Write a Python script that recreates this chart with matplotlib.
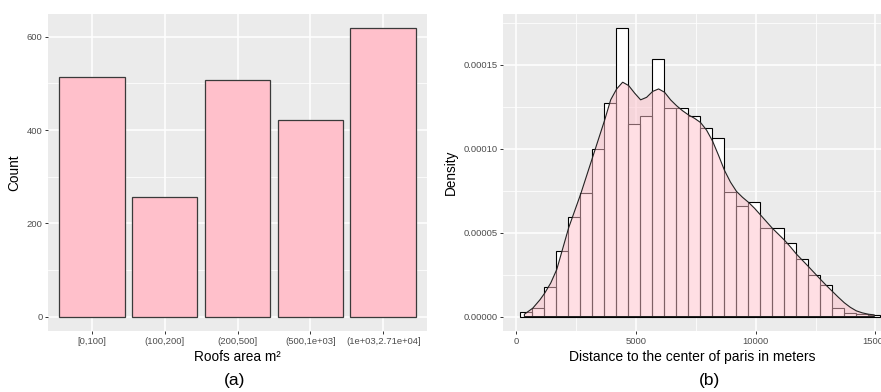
import matplotlib.pyplot as plt
import numpy as np

# panel (a): roof area classes
roof_classes = ['[0,100]', '(100,200]', '(200,500]', '(500,1e+03]', '(1e+03,2.71e+04]']
roof_counts = [513, 256, 507, 422, 618]

# panel (b): histogram of distances (density scale), 30 bins of 500 m
hist_edges = [180, 680, 1180, 1680, 2180, 2680, 3180, 3680, 4180, 4680, 5180,
              5680, 6180, 6680, 7180, 7680, 8180, 8680, 9180, 9680, 10180,
              10680, 11180, 11680, 12180, 12680, 13180, 13680, 14180, 14680, 15180]
hist_density = [2.6e-6, 5.0e-6, 1.77e-5, 3.9e-5, 5.92e-5, 7.38e-5, 1.0e-4, 1.273e-4,
                1.715e-4, 1.149e-4, 1.195e-4, 1.534e-4, 1.24e-4, 1.243e-4, 1.193e-4,
                1.12e-4, 1.062e-4, 7.39e-5, 6.61e-5, 6.79e-5, 5.26e-5, 5.3e-5,
                4.38e-5, 3.43e-5, 2.45e-5, 1.89e-5, 5.0e-6, 2.2e-6, 1.8e-6, 1.2e-6]

# kernel density curve
kde_x = [350, 700, 1000, 1200, 1450, 1700, 1950, 2200, 2450, 2700, 2950, 3200,
         3450, 3700, 3950, 4200, 4450, 4700, 4950, 5200, 5450, 5700, 5950, 6200,
         6450, 6700, 6950, 7200, 7450, 7700, 7950, 8200, 8450, 8700, 8950, 9200,
         9450, 9700, 9950, 10200, 10450, 10700, 10950, 11200, 11450, 11700,
         11950, 12200, 12450, 12700, 12950, 13200, 13450, 13700, 13950, 14200,
         14450, 14700, 14950]
kde_y = [1.4e-6, 5.0e-6, 1.0e-5, 1.4e-5, 2.0e-5, 2.8e-5, 4.05e-5, 5.3e-5, 6.3e-5,
         7.3e-5, 8.4e-5, 9.5e-5, 1.06e-4, 1.17e-4, 1.29e-4, 1.355e-4, 1.395e-4,
         1.375e-4, 1.33e-4, 1.29e-4, 1.305e-4, 1.34e-4, 1.355e-4, 1.335e-4,
         1.29e-4, 1.255e-4, 1.225e-4, 1.2e-4, 1.18e-4, 1.155e-4, 1.11e-4,
         1.045e-4, 9.6e-5, 8.7e-5, 8.0e-5, 7.45e-5, 7.1e-5, 6.8e-5, 6.45e-5,
         6.05e-5, 5.65e-5, 5.25e-5, 4.9e-5, 4.55e-5, 4.15e-5, 3.72e-5, 3.35e-5,
         2.98e-5, 2.6e-5, 2.22e-5, 1.85e-5, 1.5e-5, 1.15e-5, 8.2e-6, 5.5e-6,
         3.4e-6, 2.2e-6, 1.4e-6, 1.0e-6]

plt.rcParams['font.family'] = ['Liberation Sans', 'DejaVu Sans']

BG = '#EBEBEB'
TICK_COL = '#4D4D4D'


def gg_style(ax):
    ax.set_facecolor(BG)
    for s in ax.spines.values():
        s.set_visible(False)
    ax.grid(True, which='major', color='white', lw=1.1, zorder=0)
    ax.grid(True, which='minor', color='white', lw=0.55, zorder=0)
    ax.set_axisbelow(True)
    ax.tick_params(which='major', length=2.5, width=0.7, color='#333333',
                   labelsize=6.8, labelcolor=TICK_COL, pad=1.5)
    ax.tick_params(which='minor', length=0)


fig = plt.figure(figsize=(8.81, 3.92), dpi=100)

# ---- (a) bar chart
ax1 = fig.add_axes([48 / 881, 61 / 392, 379 / 881, 317 / 392])
gg_style(ax1)
pos = np.arange(1, len(roof_classes) + 1)
ax1.bar(pos, roof_counts, width=0.9, color='pink', edgecolor='#3a3a3a',
        linewidth=0.9, zorder=2)
ax1.set_xlim(0.4, 5.6)
ax1.set_ylim(-30.9, 648.9)
ax1.set_xticks(pos)
ax1.set_xticklabels(roof_classes)
ax1.set_yticks([0, 200, 400, 600])
ax1.set_yticks([100, 300, 500], minor=True)
ax1.grid(False, axis='x', which='minor')
ax1.set_xlabel('Roofs area m²', fontsize=9.8, labelpad=3)
ax1.set_ylabel('Count', fontsize=9.8, labelpad=4)
fig.text(235 / 881, 1 - 380 / 392, '(a)', ha='center', va='center', fontsize=12.5)

# ---- (b) histogram + density
ax2 = fig.add_axes([503 / 881, 61 / 392, 378 / 881, 317 / 392])
gg_style(ax2)
ax2.stairs(hist_density, hist_edges, fill=True, facecolor='white',
           edgecolor='none', zorder=2)
ax2.bar(hist_edges[:-1], hist_density, width=np.diff(hist_edges), align='edge',
        color='none', edgecolor='black', linewidth=0.8, zorder=3)
poly_x = [kde_x[0]] + kde_x + [kde_x[-1]]
poly_y = [0] + kde_y + [0]
ax2.fill(poly_x, poly_y, facecolor=(1.0, 0.753, 0.796, 0.5), edgecolor='#222222',
         linewidth=0.8, zorder=4)
ax2.set_xlim(-543, 15230)
ax2.set_ylim(-8.6e-6, 1.801e-4)
ax2.set_xticks([0, 5000, 10000, 15000])
ax2.set_xticks([2500, 7500, 12500], minor=True)
ax2.set_yticks([0, 5e-5, 1e-4, 1.5e-4])
ax2.set_yticks([2.5e-5, 7.5e-5, 1.25e-4, 1.75e-4], minor=True)
ax2.set_yticklabels(['0.00000', '0.00005', '0.00010', '0.00015'])
ax2.set_xlabel('Distance to the center of paris in meters', fontsize=10, labelpad=3)
ax2.set_ylabel('Density', fontsize=9.8, labelpad=4)
fig.text(710 / 881, 1 - 380 / 392, '(b)', ha='center', va='center', fontsize=12.5)

fig.savefig('out.png', dpi=100, facecolor='white')
